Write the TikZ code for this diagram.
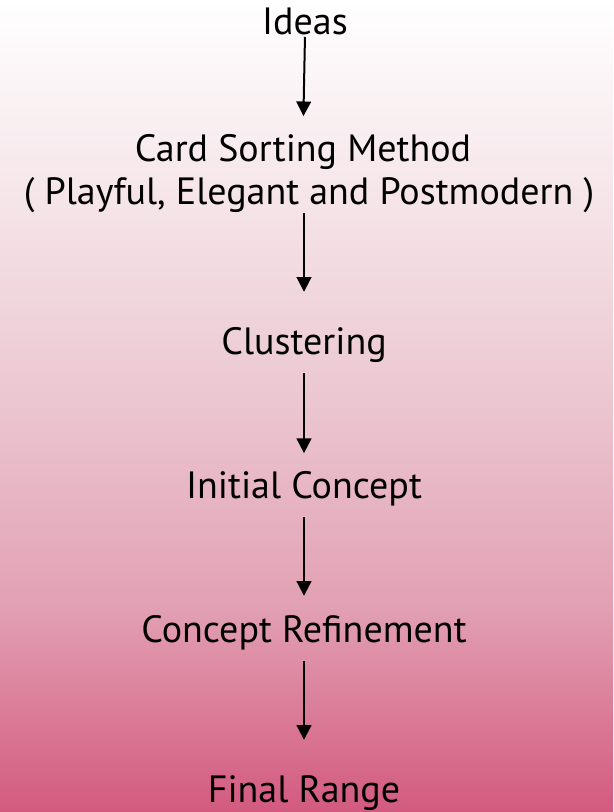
\documentclass[tikz,border=0pt]{standalone}
\usepackage{fontspec}
\setmainfont{PT Sans}
\usetikzlibrary{arrows.meta}

\pgfdeclareverticalshading{pinkfade}{100bp}{%
  rgb(0bp)=(0.827,0.353,0.498);
  rgb(25bp)=(0.827,0.353,0.498);
  rgb(37.5bp)=(0.885,0.625,0.700);
  rgb(50bp)=(0.920,0.775,0.815);
  rgb(62.5bp)=(0.960,0.895,0.912);
  rgb(75bp)=(1,1,1);
  rgb(100bp)=(1,1,1)}

\begin{document}
\begin{tikzpicture}[x=0.75pt,y=-0.75pt,
    step label/.style={inner sep=0pt,text height=18.5pt,text depth=0pt,
        font=\fontsize{28.5}{32}\selectfont},
    flow/.style={-{Triangle[length=11pt,width=11pt]},line width=1.5pt}]
            \shade[shading=pinkfade] (0,0) rectangle (613,812);
            \useasboundingbox (0,0) rectangle (613,812);

            \node[step label,anchor=south,font=\fontsize{28.5}{32}\selectfont] (ideas) at (305,35) {Ideas};

            \node[step label,anchor=south] (card) at (303,162) {Card Sorting Method};
            \node[step label,anchor=south] (styles) at (309,205) {( Playful, Elegant and Postmodern )};

            \node[step label,anchor=south] (cluster) at (304,355) {Clustering};
            \node[step label,anchor=south] (initial) at (304,499) {Initial Concept};
            \node[step label,anchor=south] (refine) at (304,643) {Concept Refinement};
            \node[step label,anchor=south] (final) at (304,803) {Final Range};

            \path [flow] (ideas.south) edge [shorten <=1.5pt,shorten >=15.5pt] (card.north);
            \path [flow] (styles.south -| cluster) edge [shorten <=6pt,shorten >=28.5pt] (cluster.north);
            \path [flow] (cluster.south) edge [shorten <=13.5pt,shorten >=15.5pt] (initial.north);
            \path [flow] (initial.south) edge [shorten <=13.5pt,shorten >=16.5pt] (refine.north);
            \path [flow] (refine.south) edge [shorten <=13.5pt,shorten >=28.5pt] (final.north);
        \end{tikzpicture}
\end{document}
